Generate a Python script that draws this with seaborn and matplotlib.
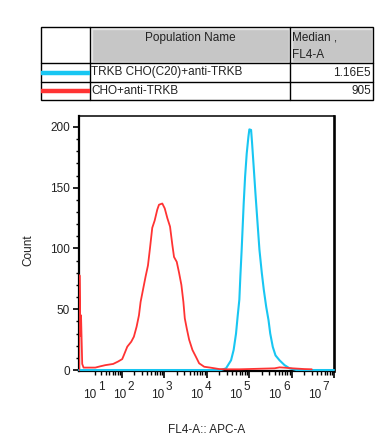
import matplotlib
matplotlib.use("Agg")
import matplotlib.pyplot as plt
from matplotlib.patches import Rectangle
import seaborn as sns
import pandas as pd

# FL4-A histogram outlines (FL4-A value, count)
red_fl4 = [0.2, 0.5, 1.4, 2.2, 3.5, 5, 20, 28, 39, 62, 82, 92, 103, 113, 136, 169, 195,
           226, 257, 281, 324, 369, 419, 467, 529, 603, 695, 762, 912, 1040, 1198, 1387,
           1571, 1722, 1994, 2262, 2566, 2860, 3085, 3440, 3900, 4668, 5614, 6720, 8830,
           12700, 19950, 30800, 60000, 400000, 523000, 700000, 1060000, 2000000, 3000000]
red_count = [0, 78, 28, 45, 5, 2, 2, 3, 4, 5, 7, 8, 9, 12.3, 19.2, 23.3, 27.4,
             35.6, 45, 56, 67, 77, 86, 100, 117, 123, 132, 136, 137, 133, 125, 118,
             103, 93, 89, 80, 70, 56, 42.5, 34, 25, 16.5, 11, 5.5, 2.7,
             1.9, 0.8, 0.6, 0.6, 1.4, 2.2, 1.9, 1.4, 0.8, 0.6]

blue_fl4 = [0, 22000, 28800, 37800, 43500, 49500, 54000, 59300, 62600, 67200, 71000,
            75000, 80900, 88300, 96900, 102000, 112000, 118000, 129000, 142000, 161000,
            176000, 200000, 223000, 254000, 288000, 316000, 363000, 421000, 523000,
            687000, 902000, 1300000, 10000000]
blue_count = [0, 0, 1.4, 8, 16.5, 30, 44, 58, 77, 99, 118,
              137, 159, 178, 192, 198, 197.5, 187, 167, 145, 118,
              99, 80, 66, 52, 41, 30, 19, 12, 8,
              4, 1.4, 0, 0]

populations = ["TRKB CHO(C20)+anti-TRKB", "CHO+anti-TRKB"]
medians = ["1.16E5", "905"]
colors = ["#18c6f2", "#ff3333"]
decades = [1, 2, 3, 4, 5, 6, 7]
label_shift_px = [8, 4.3, -0.2, -3.2, -6.7, -10.2, -13]

sns.set_style("ticks")
plt.rcParams["font.family"] = ["Liberation Sans", "DejaVu Sans"]
plt.rcParams["font.size"] = 8.5

fig = plt.figure(figsize=(3.87, 4.47), dpi=100)
ax = fig.add_axes([79 / 387, 1 - 371 / 447, 255 / 387, 255 / 447])

blue_df = pd.DataFrame({"fl4": blue_fl4, "count": blue_count})
red_df = pd.DataFrame({"fl4": red_fl4, "count": red_count})
sns.lineplot(data=blue_df, x="fl4", y="count", color=colors[0], lw=1.5, ax=ax,
             sort=False, estimator=None, clip_on=False, zorder=3)
sns.lineplot(data=red_df, x="fl4", y="count", color=colors[1], lw=1.3, ax=ax,
             sort=False, estimator=None, zorder=4)

ax.set_xscale("asinh", linear_width=20)
ax.set_xlim(0, 1e7)
ax.set_ylim(-0.8, 209)

# x ticks: decades as majors, 2..9 as minors
ax.set_xticks([10 ** d for d in decades[1:]])
ax.set_xticks([k * 10 ** d for d in decades[:-1] for k in range(2, 10)], minor=True)
ax.set_xticklabels([])
ax.set_yticks([0, 50, 100, 150, 200])
ax.set_yticks(range(10, 210, 10), minor=True)
ax.tick_params(axis="x", which="major", length=5, width=1.2, color="black")
ax.tick_params(axis="x", which="minor", length=3, width=1.0, color="black")
ax.tick_params(axis="y", which="major", length=4, width=1.2, color="black",
               labelsize=8.5, pad=2.5, labelcolor="#222222")
ax.tick_params(axis="y", which="minor", length=2.5, width=1.0, color="black")

for d, dx in zip(decades, label_shift_px):
    ax.annotate("10", xy=(10 ** d, 0), xycoords=ax.get_xaxis_transform(),
                xytext=(dx * 0.72, -17), textcoords="offset points",
                ha="right", va="center", fontsize=8.5, color="#222222")
    ax.annotate(str(d), xy=(10 ** d, 0), xycoords=ax.get_xaxis_transform(),
                xytext=(dx * 0.72 + 1.2, -11.5), textcoords="offset points",
                ha="left", va="center", fontsize=8.5, color="#222222")

for side, w in [("left", 1.6), ("bottom", 1.6), ("top", 1.1), ("right", 1.9)]:
    ax.spines[side].set_visible(True)
    ax.spines[side].set_linewidth(w)
    ax.spines[side].set_color("black")

ax.set_xlabel("")
ax.set_ylabel("")
fig.text(207 / 387, 1 - 430 / 447, "FL4-A:: APC-A", ha="center", va="center",
         fontsize=8.5, color="#222222")
fig.text(28 / 387, 1 - 250 / 447, "Count", ha="center", va="center", rotation=90,
         fontsize=8.5, color="#222222")

# table on top, drawn in pixel coordinates
tab = fig.add_axes([0, 0, 1, 1], zorder=5)
tab.set_xlim(0, 387)
tab.set_ylim(447, 0)
tab.axis("off")
for x0, x1 in [(90, 290), (290, 373)]:
    tab.add_patch(Rectangle((x0 + 1.5, 28.5), x1 - x0 - 3, 33, facecolor="#c6c6c6",
                            edgecolor="#e4e4e4", lw=1))
tab.add_patch(Rectangle((41, 27), 332, 73, fill=False, edgecolor="black", lw=1))
for x in [90, 290]:
    tab.plot([x, x], [27, 100], color="black", lw=1)
for y in [63, 82]:
    tab.plot([41, 373], [y, y], color="black", lw=1)

tab.text(190, 37.5, "Population Name", ha="center", va="center", fontsize=8.5, color="#222222")
tab.text(292, 37.5, "Median ,", ha="left", va="center", fontsize=8.5, color="#222222")
tab.text(292, 55, "FL4-A", ha="left", va="center", fontsize=8.5, color="#222222")
for i, (name, med, col) in enumerate(zip(populations, medians, colors)):
    yc = 72.5 + i * 18.5
    tab.plot([41, 90], [yc, yc], color=col, lw=3.2, solid_capstyle="butt")
    tab.text(91, yc, name, ha="left", va="center", fontsize=8.5, color="#222222")
    tab.text(371, yc, med, ha="right", va="center", fontsize=8.5, color="#222222")

fig.savefig("out.png", dpi=100)
